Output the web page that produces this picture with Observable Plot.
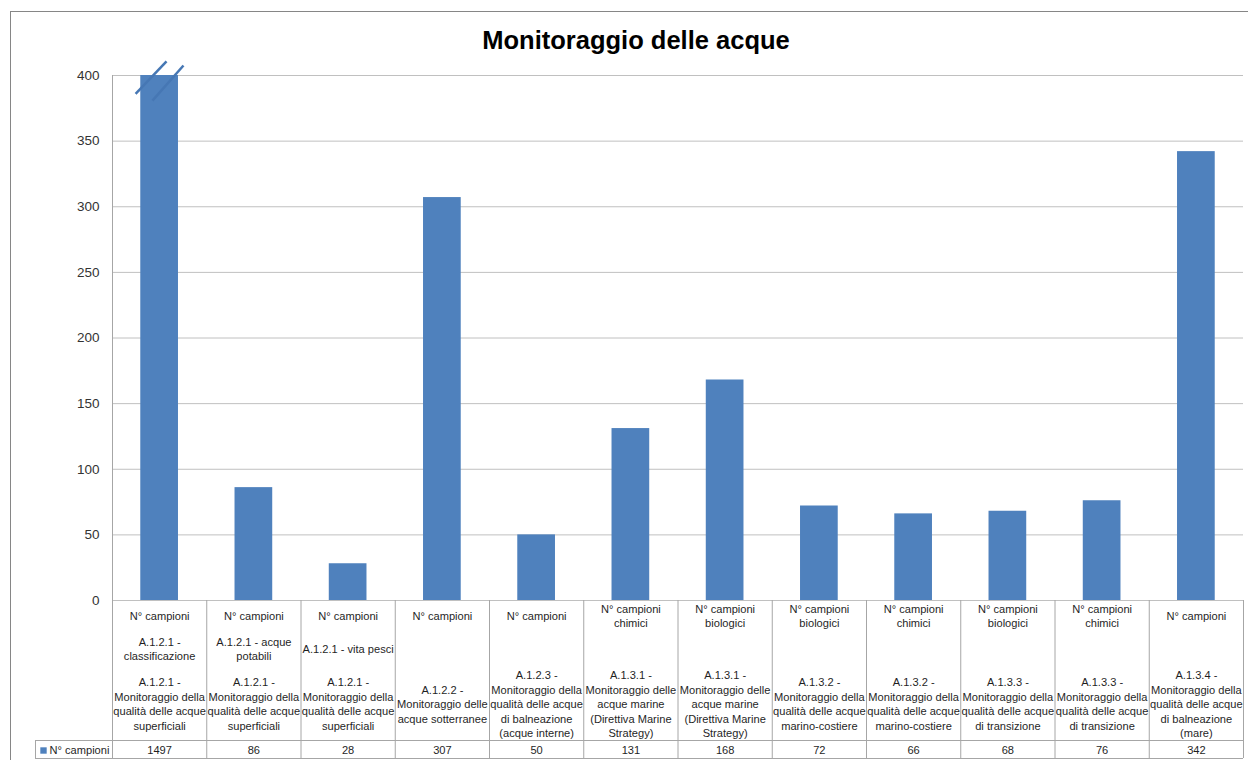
<!DOCTYPE html>
<html><head><meta charset="utf-8">
<script src="https://cdn.jsdelivr.net/npm/d3@7"></script>
<script src="https://cdn.jsdelivr.net/npm/@observablehq/plot@0.6"></script>
<style>body{margin:0;background:#fff;}</style>
</head><body><div id="chart"></div>
<script>
const title = "Monitoraggio delle acque";
const seriesName = "N° campioni";
const level1 = [
  "N° campioni", "N° campioni", "N° campioni", "N° campioni", "N° campioni",
  "N° campioni\nchimici", "N° campioni\nbiologici", "N° campioni\nbiologici",
  "N° campioni\nchimici", "N° campioni\nbiologici", "N° campioni\nchimici", "N° campioni"
];
const level2 = [
  "A.1.2.1 -\nclassificazione", "A.1.2.1 - acque\npotabili", "A.1.2.1 - vita pesci",
  "", "", "", "", "", "", "", "", ""
];
const level3 = [
  "A.1.2.1 -\nMonitoraggio della\nqualità delle acque\nsuperficiali",
  "A.1.2.1 -\nMonitoraggio della\nqualità delle acque\nsuperficiali",
  "A.1.2.1 -\nMonitoraggio della\nqualità delle acque\nsuperficiali",
  "A.1.2.2 -\nMonitoraggio delle\nacque sotterranee",
  "A.1.2.3 -\nMonitoraggio della\nqualità delle acque\ndi balneazione\n(acque interne)",
  "A.1.3.1 -\nMonitoraggio delle\nacque marine\n(Direttiva Marine\nStrategy)",
  "A.1.3.1 -\nMonitoraggio delle\nacque marine\n(Direttiva Marine\nStrategy)",
  "A.1.3.2 -\nMonitoraggio della\nqualità delle acque\nmarino-costiere",
  "A.1.3.2 -\nMonitoraggio della\nqualità delle acque\nmarino-costiere",
  "A.1.3.3 -\nMonitoraggio della\nqualità delle acque\ndi transizione",
  "A.1.3.3 -\nMonitoraggio della\nqualità delle acque\ndi transizione",
  "A.1.3.4 -\nMonitoraggio della\nqualità delle acque\ndi balneazione\n(mare)"
];
const values = [1497, 86, 28, 307, 50, 131, 168, 72, 66, 68, 76, 342];
const yTicks = [0, 50, 100, 150, 200, 250, 300, 350, 400];
const yMax = 400;

const idx = values.map((d, i) => i);
const broken = idx.filter(i => values[i] > yMax);
const n = values.length;
const bounds = d3.range(n + 1);
const blue = "#4F81BD";
const grid = "#c0c0c0";
const tableLine = "#a6a6a6";
const textCol = "#1f1f1f";
const font = "'Liberation Sans', Arial, sans-serif";
const fs = 11.1;

const chart = Plot.plot({
  width: 1248, height: 760,
  marginTop: 75, marginBottom: 160, marginLeft: 112, marginRight: 5,
  style: {fontFamily: font, fontSize: "13.5px", color: "#333", background: "#fff"},
  x: {domain: [0, n], axis: null},
  y: {domain: [0, yMax], ticks: yTicks, tickSize: 0, tickPadding: 13, label: null},
  marks: [
    Plot.frame({stroke: "#868686", insetLeft: -102, insetTop: -64, insetRight: -10, insetBottom: -170}),
    Plot.ruleY(yTicks, {stroke: grid}),
    Plot.ruleX([0], {stroke: tableLine, insetBottom: -158}),
    Plot.ruleX(bounds.slice(1), {stroke: tableLine, insetTop: 525, insetBottom: -158}),
    Plot.ruleX([0], {stroke: tableLine, dx: -77, insetTop: 665, insetBottom: -158}),
    Plot.ruleY([0], {stroke: tableLine, dy: 140, insetLeft: -77}),
    Plot.ruleY([0], {stroke: tableLine, dy: 158, insetLeft: -77}),
    Plot.rectY(idx, {x1: i => i + 0.3, x2: i => i + 0.7, y1: 0, y2: i => Math.min(values[i], yMax), fill: blue}),
    Plot.link(broken, {x1: i => i + 0.245, y1: yMax * 0.965, x2: i => i + 0.573, y2: yMax * 1.027, stroke: "#4677B4", strokeWidth: 2.5}),
    Plot.link(broken, {x1: i => i + 0.424, y1: yMax * 0.952, x2: i => i + 0.753, y2: yMax * 1.019, stroke: "#4677B4", strokeWidth: 2.5}),
    Plot.text(idx, {x: i => i + 0.5, y: 0, text: i => level1[i], dy: 15, lineAnchor: "middle", lineHeight: 1.28, fontSize: fs, fill: textCol}),
    Plot.text(idx, {x: i => i + 0.5, y: 0, text: i => level2[i], dy: 48, lineAnchor: "middle", lineHeight: 1.28, fontSize: fs, fill: textCol}),
    Plot.text(idx, {x: i => i + 0.5, y: 0, text: i => level3[i], dy: 103, lineAnchor: "middle", lineHeight: 1.3, fontSize: fs, fill: textCol}),
    Plot.text(idx, {x: i => i + 0.5, y: 0, text: i => String(values[i]), dy: 150, lineAnchor: "middle", fontSize: fs, fill: textCol}),
    Plot.dot([seriesName], {frameAnchor: "bottom-left", dx: -69, dy: 150, symbol: "square", r: 3.6, fill: blue}),
    Plot.text([seriesName], {frameAnchor: "bottom-left", text: d => d, dx: -63, dy: 150, textAnchor: "start", lineAnchor: "middle", fontSize: fs, fill: textCol}),
    Plot.text([title], {frameAnchor: "top", text: d => d, dx: -42, dy: -35, lineAnchor: "middle", fontSize: 25.5, fontWeight: "bold", fill: "#000"})
  ]
});
document.getElementById("chart").append(chart);
</script>
</body></html>
